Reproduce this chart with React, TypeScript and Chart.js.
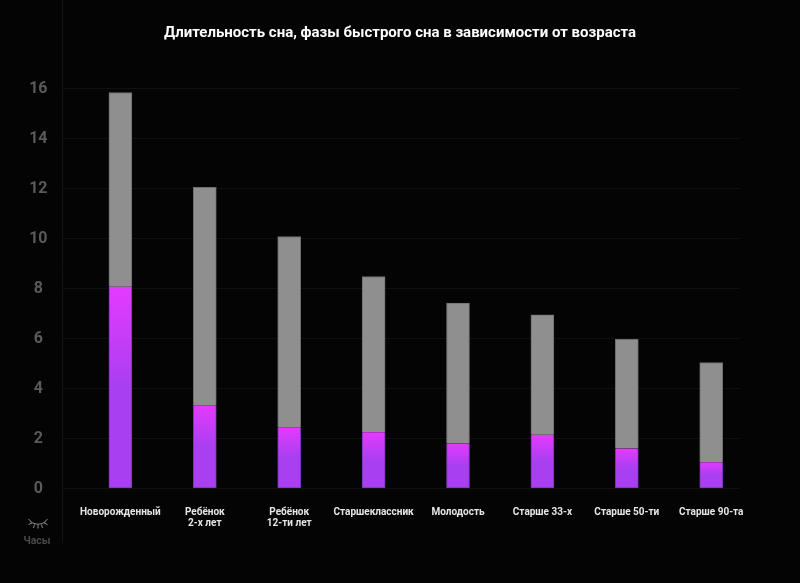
import React, { useEffect, useRef } from "react";
import { Chart, registerables } from "chart.js";

Chart.register(...registerables);

const categories: (string | string[])[] = [
  "Новорожденный",
  ["Ребёнок", "2-х лет"],
  ["Ребёнок", "12-ти лет"],
  "Старшеклассник",
  "Молодость",
  "Старше 33-х",
  "Старше 50-ти",
  "Старше 90-та",
];
const remSleep = [8.07, 3.33, 2.45, 2.25, 1.8, 2.15, 1.6, 1.05];
const otherSleep = [7.77, 8.72, 7.63, 6.23, 5.62, 4.8, 4.37, 3.99];
const yTicks = [0, 2, 4, 6, 8, 10, 12, 14, 16];
const titleText = "Длительность сна, фазы быстрого сна в зависимости от возраста";
const unitText = "Часы";

const FONT = "Roboto, sans-serif";

const decor = {
  id: "decor",
  beforeDraw(chart: any) {
    const { ctx, width, height, scales } = chart;
    ctx.save();
    ctx.fillStyle = "#040404";
    ctx.fillRect(0, 0, width, height);
    ctx.strokeStyle = "#131313";
    ctx.lineWidth = 1;
    ctx.beginPath();
    ctx.moveTo(scales.y.right - 0.5, 0);
    ctx.lineTo(scales.y.right - 0.5, 543);
    ctx.stroke();
    ctx.restore();
  },
  afterDraw(chart: any) {
    const { ctx } = chart;
    ctx.save();
    // closed-eye icon
    ctx.strokeStyle = "#8a8a8a";
    ctx.lineWidth = 1;
    ctx.beginPath();
    ctx.moveTo(30, 521.5);
    ctx.quadraticCurveTo(38, 527, 46, 521.5);
    ctx.moveTo(28.5, 524.5);
    ctx.lineTo(32, 523);
    ctx.moveTo(47.5, 524.5);
    ctx.lineTo(44, 523);
    ctx.moveTo(28.5, 519);
    ctx.lineTo(31, 521.5);
    ctx.moveTo(47.5, 519);
    ctx.lineTo(45, 521.5);
    ctx.moveTo(34.5, 524.5);
    ctx.lineTo(33.5, 528);
    ctx.moveTo(38, 525);
    ctx.lineTo(38, 528.5);
    ctx.moveTo(41.5, 524.5);
    ctx.lineTo(42.5, 528);
    ctx.stroke();
    ctx.fillStyle = "#4a4a4a";
    ctx.font = `bold 10.5px ${FONT}`;
    ctx.textAlign = "center";
    ctx.textBaseline = "middle";
    ctx.fillText(unitText, 37, 541.5);
    ctx.restore();
  },
};

export default function App() {
  const ref = useRef<HTMLCanvasElement>(null);
  useEffect(() => {
    document.body.style.margin = "0";
    document.body.style.background = "#040404";
    const chart = new Chart(ref.current as HTMLCanvasElement, {
      type: "bar",
      data: {
        datasets: [
          {
            data: remSleep.map((y, x) => ({ x, y })),
            barThickness: 23,
            borderWidth: { left: 1, right: 1, bottom: 1, top: 0 },
            borderSkipped: false,
            borderColor: "#7a33b8",
            backgroundColor: (c: any) => {
              const { chart, dataIndex } = c;
              const yS = chart.scales.y;
              if (!yS || dataIndex === undefined) return "#a83ff0";
              const top = yS.getPixelForValue(remSleep[dataIndex]);
              const bottom = yS.getPixelForValue(0);
              if (!isFinite(top) || !isFinite(bottom) || bottom <= top) return "#a83ff0";
              const g = chart.ctx.createLinearGradient(0, top, 0, bottom);
              g.addColorStop(0, "#e43aff");
              g.addColorStop(0.5, "#a83ff0");
              g.addColorStop(1, "#a83ff0");
              return g;
            },
          },
          {
            data: otherSleep.map((y, x) => ({ x, y })),
            barThickness: 23,
            borderWidth: { left: 1, right: 1, top: 1, bottom: 0 },
            borderSkipped: false,
            borderColor: "#6e6e6e",
            backgroundColor: "#8f8f8f",
          },
        ],
      } as any,
      options: {
        animation: false,
        responsive: false,
        layout: { padding: 0 },
        plugins: {
          legend: { display: false },
          tooltip: { enabled: false },
          title: {
            display: true,
            text: titleText,
            color: "#ffffff",
            font: { family: FONT, size: 15, weight: "bold", lineHeight: 1.2 },
            padding: { top: 24, bottom: 46.5 },
          },
        },
        scales: {
          x: {
            type: "linear",
            stacked: true,
            offset: false,
            min: -0.68,
            max: 7.341,
            grid: { display: false },
            border: { display: false },
            afterBuildTicks: (s: any) => {
              s.ticks = categories.map((_, i) => ({ value: i }));
            },
            afterFit: (s: any) => {
              s.height = 94.5;
            },
            ticks: {
              callback: (v: any) => categories[v as number],
              color: "#e6e6e6",
              font: { family: FONT, size: 10, weight: "bold", lineHeight: 1.15 },
              padding: 10,
              maxRotation: 0,
              minRotation: 0,
              autoSkip: false,
              includeBounds: false,
            },
          },
          y: {
            stacked: true,
            min: 0,
            max: 16,
            grid: { color: "#101010", drawTicks: false, lineWidth: 1 },
            border: { display: false },
            afterBuildTicks: (s: any) => {
              s.ticks = yTicks.map((value) => ({ value }));
            },
            afterFit: (s: any) => {
              s.width = 63;
            },
            ticks: {
              color: "#5a5a5a",
              crossAlign: "center",
              padding: 15.5,
              font: { family: FONT, size: 16, weight: "bold" },
            },
          },
          rightGutter: {
            type: "linear",
            position: "right",
            min: 0,
            max: 16,
            grid: { display: false },
            border: { display: false },
            ticks: { display: false },
            afterFit: (s: any) => {
              s.width = 60;
            },
          },
        },
      } as any,
      plugins: [decor],
    });
    return () => chart.destroy();
  }, []);
  return <canvas ref={ref} width={800} height={583} style={{ display: "block" }} />;
}
